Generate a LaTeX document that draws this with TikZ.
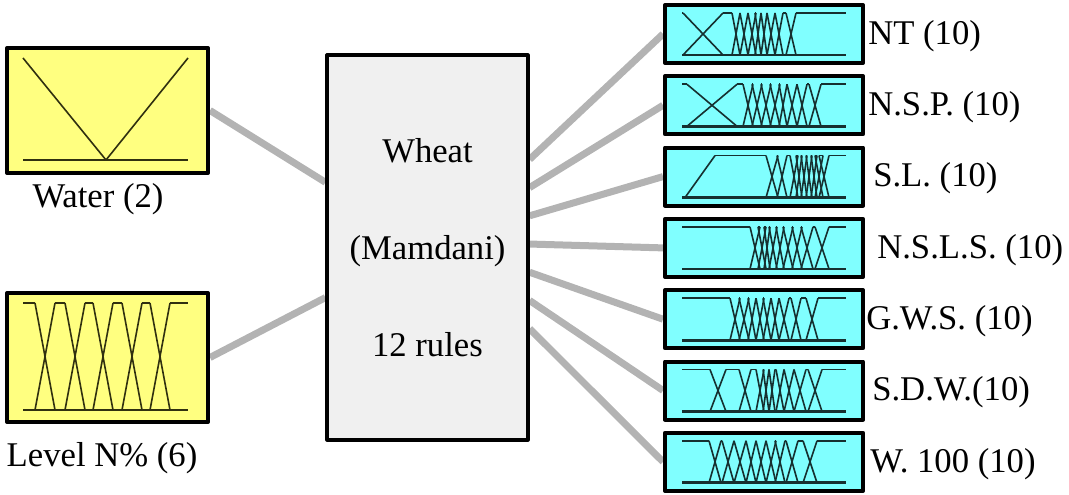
\documentclass[tikz,border=0pt]{standalone}
\usepackage{fontspec}
\setmainfont{LiberationSerif}[Extension=.ttf,UprightFont=*-Regular,BoldFont=*-Bold]
\usepackage{tikz}
\usetikzlibrary{calc}
\usetikzlibrary{positioning,backgrounds}

\definecolor{inyellow}{HTML}{FFFF80}
\definecolor{outcyan}{HTML}{80FFFF}
\definecolor{rulegray}{HTML}{F0F0F0}
\definecolor{linkgray}{HTML}{B3B3B3}
\definecolor{mfdark}{HTML}{163030}
\definecolor{mfolive}{HTML}{303010}

% one row of membership functions: top y, base y, left x, right x, crossings k/s, base left x
\newcommand{\mfrow}[6]{%
  \foreach \k/\s [remember=\k as \pk (initially #3), remember=\s as \ps (initially 0)] in {#5,#4/0}{
    \draw[mf] (\pk+\ps,#1) -- (\k-\s,#1);
    \ifdim\s pt>0pt
      \draw[mf] (\k-\s,#2) -- (\k+\s,#1) (\k-\s,#1) -- (\k+\s,#2);
    \fi
  }
  \draw[mfbase] (#6,#2) -- (#4,#2);
}

\begin{document}
\begin{tikzpicture}[
  x=0.75pt,y=-0.75pt,
  line join=round,
  inbox/.style={draw=black,fill=inyellow,line width=3pt,minimum width=201*0.75pt},
  outbox/.style={draw=black,fill=outcyan,line width=3pt,minimum width=198*0.75pt,minimum height=58*0.75pt},
  rulebox/.style={draw=black,fill=rulegray,line width=2.4pt,minimum width=201*0.75pt,minimum height=385*0.75pt,
    align=center,font=\fontsize{26}{72.75}\selectfont},
  lab/.style={inner sep=0pt,font=\fontsize{26}{30}\selectfont},
  link/.style={draw=linkgray,line width=5.25pt},
  mf/.style={draw=mfdark,line width=1.2pt},
  mfbase/.style={draw=mfdark,line width=2pt}
]
  \useasboundingbox (0,0) rectangle (1069,495);

  % Inputs
  \node[inbox,minimum height=125*0.75pt] (water) at (107.5,110.5) {};
  \node[inbox,minimum height=129*0.75pt] (level) at (107.5,357.5) {};
  \node[lab] (waterlab) at (98,199) {Water (2)};
  \node[lab] (levellab) at (102,458) {Level N\% (6)};

  \draw[draw=mfolive,line width=1.2pt] (23,58) -- (106,160) -- (188,58);
  \draw[draw=mfolive,line width=2pt] (23,160) -- (188,160);
  \begin{scope}[mf/.style={draw=mfolive,line width=1.2pt},mfbase/.style={draw=mfolive,line width=2pt}]
    \mfrow{303}{410}{23}{188}{45/10,75/10,103/10,132/10,160/10}{23}
  \end{scope}

  % Rule block
  \node[rulebox] (rules) at (427.5,247.5) {Wheat\\(Mamdani)\\12 rules};

  % Outputs
  \foreach \i/\lx/\txt in {1/868/NT (10),2/868/N.S.P. (10),3/873/S.L. (10),4/877/N.S.L.S. (10),
                           5/866/G.W.S. (10),6/872/S.D.W.(10),7/870/W. 100 (10)}{
    \node[outbox] (out\i) at (764,{34+71.3*(\i-1)}) {};
    \node[lab,anchor=west] (outlab\i) at (\lx,{36+71.3*(\i-1)}) {\txt};
  }

  \mfrow{13}{55}{682}{846}{703/20,736/4,744/4,752/4,758/3,764/3,771/4,779/4,791/5}{682}
  \mfrow{84.3}{126.3}{682}{846}{712/25,748/5,757/5,766/5,775/5,783/4,792/5,802/5,815/6}{682}
  \draw[mf] (685,197.6) -- (715,155.6);
  \mfrow{155.6}{197.6}{715}{846}{772/6,782/5,794/4,799/3,804/3,809/3,814/3,819/4,824/5}{682}
  \mfrow{226.9}{268.9}{682}{846}{755/5,762/4,767/3,773/4,780/4,788/5,797/5,807/6,822/7}{682}
  \mfrow{298.2}{340.2}{682}{846}{735/5,744/5,752/4,760/4,767/4,775/4,784/5,796/5,812/6}{682}
  \mfrow{369.5}{411.5}{682}{846}{718/8,745/6,760/4,766/3,772/3,780/4,789/5,800/6,815/7}{682}
  \mfrow{440.8}{482.8}{682}{846}{715/6,728/6,740/6,751/5,761/5,771/5,780/5,792/6,810/7}{682}

  % Links
  \begin{scope}[on background layer]
    \draw[link] (water.east) -- ($(rules.north west)!0.332!(rules.south west)$);
    \draw[link] (level.east) -- ($(rules.north west)!0.629!(rules.south west)$);
    \foreach \i [evaluate=\i as \f using 0.273+0.0727*(\i-1)] in {1,...,7}
      \draw[link] ($(rules.north east)!\f!(rules.south east)$) -- (out\i.west);
  \end{scope}
\end{tikzpicture}
\end{document}
